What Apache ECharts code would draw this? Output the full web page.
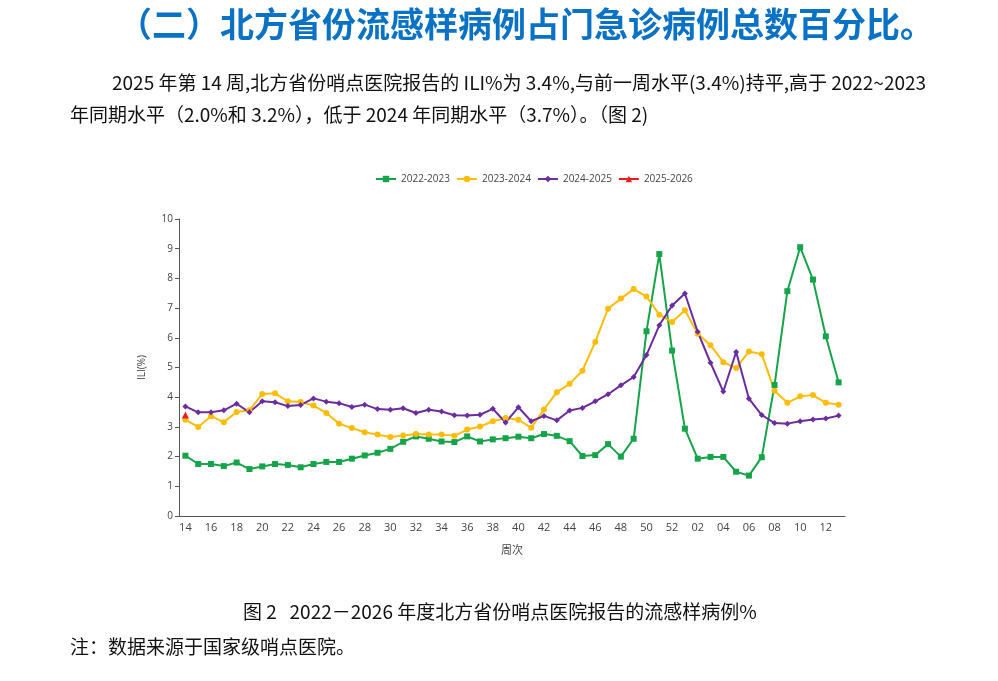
<!DOCTYPE html>
<html>
<head>
<meta charset="utf-8">
<script src="https://cdn.jsdelivr.net/npm/echarts@6/dist/echarts.min.js"></script>
<style>
html,body{margin:0;padding:0;background:#fff;}
#c{width:998px;height:681px;}
</style>
</head>
<body>
<div id="c"></div>
<script>
const weeks = ['14','15','16','17','18','19','20','21','22','23','24','25','26','27','28','29','30','31','32','33','34','35','36','37','38','39','40','41','42','43','44','45','46','47','48','49','50','51','52','01','02','03','04','05','06','07','08','09','10','11','12','13'];
const s2022 = [2.03,1.75,1.75,1.68,1.80,1.58,1.67,1.75,1.72,1.64,1.75,1.82,1.82,1.93,2.04,2.13,2.26,2.50,2.68,2.60,2.51,2.49,2.68,2.51,2.58,2.62,2.67,2.62,2.76,2.70,2.52,2.02,2.05,2.42,2.00,2.60,6.22,8.82,5.57,2.94,1.93,1.99,1.99,1.49,1.36,1.98,4.41,7.57,9.05,7.96,6.05,4.50];
const s2023 = [3.24,3.00,3.36,3.16,3.50,3.56,4.11,4.13,3.86,3.84,3.72,3.47,3.11,2.96,2.82,2.74,2.66,2.71,2.76,2.74,2.74,2.70,2.91,3.01,3.19,3.30,3.24,2.97,3.59,4.17,4.45,4.89,5.86,6.98,7.32,7.64,7.39,6.78,6.53,6.93,6.14,5.75,5.18,4.98,5.54,5.45,4.22,3.81,4.03,4.07,3.81,3.75];
const s2024 = [3.69,3.49,3.49,3.56,3.78,3.49,3.86,3.83,3.70,3.74,3.96,3.85,3.80,3.67,3.75,3.60,3.58,3.63,3.47,3.58,3.52,3.39,3.38,3.41,3.61,3.15,3.66,3.19,3.37,3.22,3.55,3.64,3.86,4.10,4.40,4.68,5.42,6.42,7.09,7.49,6.20,5.16,4.19,5.52,3.95,3.40,3.13,3.11,3.19,3.25,3.28,3.38];
const s2025 = [3.4];
const seriesNames = ['2022-2023','2023-2024','2024-2025','2025-2026'];
const yTicks = [0,1,2,3,4,5,6,7,8,9,10];

const chart = echarts.init(document.getElementById('c'));
const cjk = '"Noto Sans CJK SC", sans-serif';
const lab = '"Open Sans","Noto Sans", sans-serif';
function mk(name, data, color, symbol, size){
  return {name:name, type:'line', data:data, symbol:symbol, symbolSize:size, showSymbol:true,
    lineStyle:{color:color, width:2}, itemStyle:{color:color}, emphasis:{disabled:true}};
}
chart.setOption({
  animation:false,
  backgroundColor:'#fff',
  graphic:[
    {type:'text', left:118, top:7, style:{text:'（二）北方省份流感样病例占门急诊病例总数百分比。', font:'bold 34px '+cjk, fill:'#0a72c4'}},
    {type:'text', left:112, top:73, style:{text:'2025 年第 14 周,北方省份哨点医院报告的 ILI%为 3.4%,与前一周水平(3.4%)持平,高于 2022~2023', font:'19px '+cjk, fill:'#111'}},
    {type:'text', left:70, top:105, style:{text:'年同期水平（2.0%和 3.2%），低于 2024 年同期水平（3.7%）。（图 2)', font:'19px '+cjk, fill:'#111'}},
    {type:'text', left:243, top:602, style:{text:'图 2   2022－2026 年度北方省份哨点医院报告的流感样病例%', font:'19px '+cjk, fill:'#111'}},
    {type:'text', left:70, top:637, style:{text:'注：数据来源于国家级哨点医院。', font:'19px '+cjk, fill:'#111'}}
  ],
  legend:{
    data:seriesNames,
    left:370, top:169, itemWidth:20, itemHeight:8, itemGap:6,
    textStyle:{fontSize:10, color:'#444', fontFamily:lab}
  },
  grid:{left:179, right:153, top:219, bottom:165},
  xAxis:{
    type:'category', data:weeks, boundaryGap:true,
    name:'周次', nameLocation:'middle', nameGap:28,
    nameTextStyle:{fontSize:11, color:'#444', fontFamily:cjk},
    axisLine:{lineStyle:{color:'#555'}},
    axisTick:{alignWithLabel:true, interval:1, length:4, lineStyle:{color:'#555'}},
    axisLabel:{interval:1, fontSize:11, color:'#444', fontFamily:lab, margin:6}
  },
  yAxis:{
    type:'value', min:yTicks[0], max:yTicks[yTicks.length-1], interval:1,
    name:'ILI(%)', nameLocation:'middle', nameGap:32, nameRotate:90,
    nameTextStyle:{fontSize:10, color:'#444', fontFamily:lab},
    axisLine:{show:true, lineStyle:{color:'#555'}},
    axisTick:{show:true, length:4, lineStyle:{color:'#555'}},
    splitLine:{show:false},
    axisLabel:{fontSize:10, color:'#444', fontFamily:lab, margin:6}
  },
  series:[
    mk(seriesNames[0], s2022, '#16a44a', 'rect', 6),
    mk(seriesNames[1], s2023, '#fbbd0a', 'circle', 6),
    mk(seriesNames[2], s2024, '#6b2c9e', 'diamond', 6),
    mk(seriesNames[3], s2025, '#ee1c1c', 'triangle', 7)
  ]
});
</script>
</body>
</html>
